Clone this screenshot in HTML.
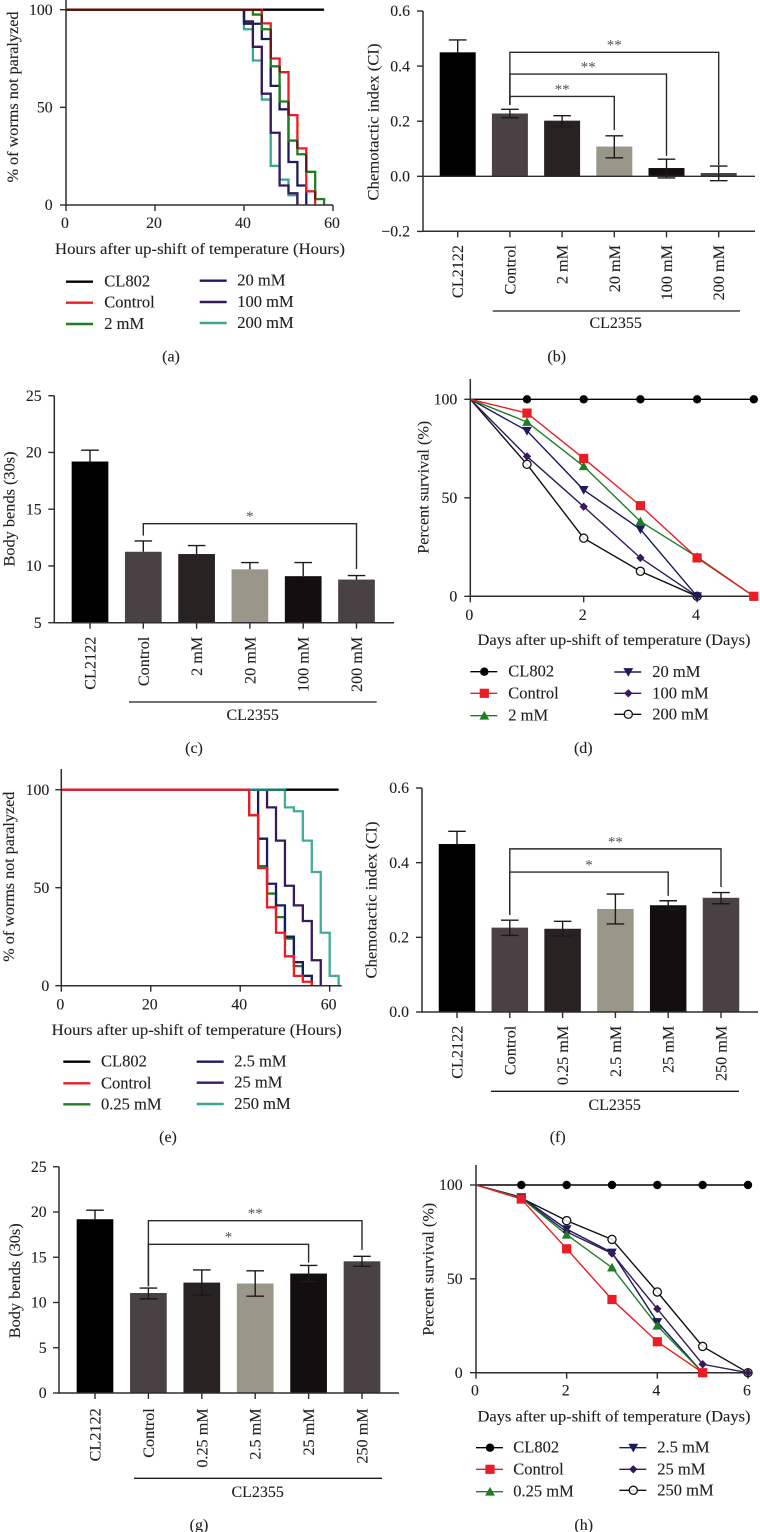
<!DOCTYPE html>
<html lang="en">
<head>
<meta charset="utf-8">
<title>Paralysis, chemotaxis, body bends and survival panels</title>
<style>
html,body{margin:0;padding:0;background:#fff;}
svg{display:block;}
text{font-family:"Liberation Serif",serif;fill:#231f20;stroke:#231f20;stroke-width:0.12;}
</style>
</head>
<body>
<svg id="fig" xmlns="http://www.w3.org/2000/svg" width="760" height="1532" viewBox="0 0 760 1532"></svg>
<script>
/* Panel (a) */
const aHours = [0, 40, 42, 44, 46, 48, 50, 52, 54, 56, 58];
const aCL802 = [100, 100, 100, 100, 100, 100, 100, 100, 100, 100, 100];
const aControl = [100, 100, 100, 93, 75, 68, 46, 29, 7, 0, null];
const a2mM = [100, 100, 97.5, 90, 71, 53, 33, 26, 17, 3, 0];
const a20mM = [100, 92.8, 92.8, 85, 61, 49, 22, 10, 0, null, null];
const a100mM = [100, 94, 81, 57, 37, 10, 6, 0, null, null, null];
const a200mM = [100, 90, 74, 54, 20, 13, 5, 0, null, null, null];
const aXTicks = [0, 20, 40, 60];
const aYTicks = [0, 50, 100];
const aLegend = ["CL802", "Control", "2 mM", "20 mM", "100 mM", "200 mM"];

/* Panel (b) */
const bCategories = ["CL2122", "Control", "2 mM", "20 mM", "100 mM", "200 mM"];
const bMeans = [0.45, 0.228, 0.202, 0.108, 0.03, 0.012];
const bErrHigh = [0.495, 0.243, 0.22, 0.147, 0.062, 0.037];
const bErrLow = [null, 0.213, 0.18, 0.067, -0.006, -0.016];
const bYTicks = [-0.2, 0, 0.2, 0.4, 0.6];
const bBracketTo = [3, 4, 5];
const bBracketLevel = [0.29, 0.371, 0.45];
const bBracketEnd = [0.168, 0.074, 0.041];
const bBracketStars = ["**", "**", "**"];

/* Panel (c) */
const cCategories = ["CL2122", "Control", "2 mM", "20 mM", "100 mM", "200 mM"];
const cMeans = [19.2, 11.25, 11.05, 9.7, 9.1, 8.8];
const cErrHigh = [20.2, 12.2, 11.8, 10.3, 10.3, 9.15];
const cErrLow = [null, null, null, null, null, null];
const cYTicks = [5, 10, 15, 20, 25];
const cBracketTo = [5];
const cBracketLevel = [13.72];
const cBracketEnd = [9.73];
const cBracketStars = ["*"];

/* Panel (d) */
const dDays = [0, 1, 2, 3, 4, 5];
const dCL802 = [100, 100, 100, 100, 100, 100];
const dControl = [100, 93, 70, 46, 19.5, 0];
const d2mM = [100, 88.5, 66, 38, 20, 0];
const d20mM = [100, 84, 54, 34, 0, null];
const d100mM = [100, 71, 45.5, 19.5, 0, null];
const d200mM = [100, 67, 29.5, 12.7, 0, null];
const dXTicks = [0, 2, 4];
const dYTicks = [0, 50, 100];
const dLegend = ["CL802", "Control", "2 mM", "20 mM", "100 mM", "200 mM"];

/* Panel (e) */
const eHours = [0, 42, 44, 46, 48, 50, 52, 54, 56, 58, 60, 62];
const eCL802 = [100, 100, 100, 100, 100, 100, 100, 100, 100, 100, 100, 100];
const eControl = [100, 87, 60, 40, 27, 15, 5, 2, 0, null, null, null];
const e025mM = [100, 87, 61, 47, 35, 24, 10, 5, 0, null, null, null];
const e25mM = [100, 100, 75, 52, 41, 25, 12, 5, 0, null, null, null];
const e25mMHigh = [100, 100, 100, 91, 74, 51, 41, 33, 13, 0, null, null];
const e250mM = [100, 100, 100, 100, 100, 91, 89, 74, 58, 27, 5, 0];
const eXTicks = [0, 20, 40, 60];
const eYTicks = [0, 50, 100];
const eLegend = ["CL802", "Control", "0.25 mM", "2.5 mM", "25 mM", "250 mM"];

/* Panel (f) */
const fCategories = ["CL2122", "Control", "0.25 mM", "2.5 mM", "25 mM", "250 mM"];
const fMeans = [0.45, 0.226, 0.223, 0.276, 0.286, 0.306];
const fErrHigh = [0.484, 0.246, 0.243, 0.316, 0.298, 0.32];
const fErrLow = [null, 0.205, 0.203, 0.236, 0.275, 0.29];
const fYTicks = [0, 0.2, 0.4, 0.6];
const fBracketTo = [4, 5];
const fBracketLevel = [0.375, 0.437];
const fBracketEnd = [0.311, 0.335];
const fBracketStars = ["*", "**"];

/* Panel (g) */
const gCategories = ["CL2122", "Control", "0.25 mM", "2.5 mM", "25 mM", "250 mM"];
const gMeans = [19.2, 11.05, 12.2, 12.1, 13.2, 14.55];
const gErrHigh = [20.2, 11.6, 13.6, 13.5, 14.1, 15.1];
const gErrLow = [null, 10.4, 10.8, 10.7, 12.3, 14];
const gYTicks = [0, 5, 10, 15, 20, 25];
const gBracketTo = [4, 5];
const gBracketLevel = [16.43, 19.04];
const gBracketEnd = [14.4, 15.8];
const gBracketStars = ["*", "**"];

/* Panel (h) */
const hDays = [0, 1, 2, 3, 4, 5, 6];
const hCL802 = [100, 100, 100, 100, 100, 100, 100];
const hControl = [100, 92.5, 66, 39, 16.5, 0, null];
const h025mM = [100, 93, 73.5, 56, 25, 0, null];
const h25mM = [100, 93.5, 76.5, 64, 27, 0, null];
const h25mMHigh = [100, 93, 75, 63.5, 34, 4.5, 0];
const h250mM = [100, 93, 81, 71, 43, 14, 0];
const hXTicks = [0, 2, 4, 6];
const hYTicks = [0, 50, 100];
const hLegend = ["CL802", "Control", "0.25 mM", "2.5 mM", "25 mM", "250 mM"];

const SVGNS = "http://www.w3.org/2000/svg";
const fig = document.getElementById("fig");
const AXIS = "#2e2e2e";
const RED = "#ea1c24";
const GREEN = "#1f7d24";
const NAVY = "#1b1b5e";
const PURPLE = "#381a5c";
const TEAL = "#3ba693";
const BARCOLORS = ["#000000", "#4a4144", "#292223", "#9a9689", "#130e0f", "#4a4144"];
const TICK_SIZE = 15.8;
const TITLE_SIZE = 16;
const LEGEND_SIZE = 16.5;
const CATEGORY_SIZE = 16.2;
const CAPTION_SIZE = 16;

function panel(name) {
  const g = document.createElementNS(SVGNS, "g");
  
  
  fig.appendChild(g);
  return g;
}
function line(g, x1, y1, x2, y2, color, width, name) {
  const el = document.createElementNS(SVGNS, "line");
  el.setAttribute("x1", x1);
  el.setAttribute("y1", y1);
  el.setAttribute("x2", x2);
  el.setAttribute("y2", y2);
  el.setAttribute("stroke", color);
  el.setAttribute("stroke-width", width);
  
  
  g.appendChild(el);
  return el;
}
function label(g, x, y, str, size, anchor, rotated, name, fitWidth) {
  const el = document.createElementNS(SVGNS, "text");
  el.setAttribute("x", x);
  el.setAttribute("y", y);
  el.setAttribute("font-size", size);
  el.setAttribute("text-anchor", anchor);
  if (rotated) el.setAttribute("transform", "rotate(-90 " + x + " " + y + ")");
  if (fitWidth) {
    el.setAttribute("textLength", fitWidth);
    el.setAttribute("lengthAdjust", "spacingAndGlyphs");
  }
  el.textContent = str;
  
  
  g.appendChild(el);
  return el;
}
function shape(g, tag, name) {
  const el = document.createElementNS(SVGNS, tag);
  
  
  g.appendChild(el);
  return el;
}
function fmt(v, digits) {
  const s = Math.abs(v).toFixed(digits);
  return v < 0 ? "\u2212" + s : s;
}
function axes(g, c, x, y, xTicks, yTicks, digits) {
  line(g, c.x0, c.axisTop, c.x0, c.axisBottom + 0.7, AXIS, 1.5, "y-axis-line");
  line(g, c.axisXStart || c.x0, c.axisBottom, c.axisXEnd, c.axisBottom, AXIS, 1.5, "x-axis-line");
  yTicks.forEach(function (t) {
    line(g, c.x0 - 6, y(t), c.x0, y(t), AXIS, 1.4, "y-tick-" + t);
    label(g, c.yLabelX, y(t) + 5.2, fmt(t, digits), TICK_SIZE, "end", false, "y-tick-label-" + t);
  });
  if (xTicks) xTicks.forEach(function (t) {
    line(g, x(t), c.axisBottom, x(t), c.axisBottom + 6, AXIS, 1.4, "x-tick-" + t);
    label(g, x(t) - 1, c.xLabelY, String(t), TICK_SIZE, "middle", false, "x-tick-label-" + t);
  });
}
function common(g, c) {
  label(g, c.yTitleX, c.yTitleCy, c.yTitle, TITLE_SIZE, "middle", true, "y-axis-title", c.yTitleLen);
  if (c.xTitle) label(g, c.xTitleCx, c.xTitleY, c.xTitle, TITLE_SIZE, "middle", false, "x-axis-title", c.xTitleLen);
  label(g, c.capCx, c.capY, c.caption, CAPTION_SIZE, "middle", false, "panel-caption");
}
function marker(g, kind, cx, cy, color, name) {
  if (kind === "circle" || kind === "open") {
    const el = shape(g, "circle", name);
    el.setAttribute("cx", cx);
    el.setAttribute("cy", cy);
    el.setAttribute("r", kind === "open" ? 4.1 : 4.2);
    el.setAttribute("fill", kind === "open" ? "#fff" : color);
    el.setAttribute("fill-opacity", kind === "open" ? 0.85 : 1);
    el.setAttribute("stroke", color);
    el.setAttribute("stroke-width", kind === "open" ? 1.3 : 0);
  } else if (kind === "square") {
    const el = shape(g, "rect", name);
    el.setAttribute("x", cx - 4.6);
    el.setAttribute("y", cy - 4.6);
    el.setAttribute("width", 9.2);
    el.setAttribute("height", 9.2);
    el.setAttribute("fill", color);
  } else {
    const el = shape(g, "polygon", name);
    let pts;
    if (kind === "up") pts = [[cx, cy - 4.8], [cx + 4.9, cy + 3.9], [cx - 4.9, cy + 3.9]];
    else if (kind === "down") pts = [[cx, cy + 4.8], [cx + 4.9, cy - 3.9], [cx - 4.9, cy - 3.9]];
    else pts = [[cx, cy - 4.2], [cx + 4.2, cy], [cx, cy + 4.2], [cx - 4.2, cy]];
    el.setAttribute("points", pts.map(function (p) { return p.join(","); }).join(" "));
    el.setAttribute("fill", color);
  }
}
function legend(g, c, labels, colors, kinds, width) {
  labels.forEach(function (txt, i) {
    const col = i < 3 ? 0 : 1;
    const rowY = c.legY[col][i % 3];
    const lx = c.legLineX[col];
    const entry = shape(g, "g", "legend-entry-" + txt.replace(/[ .]/g, "").toLowerCase());
    line(entry, lx, rowY, lx + 27, rowY, colors[i], width, "legend-swatch-line");
    if (kinds) marker(entry, kinds[i], lx + 14, rowY, colors[i], "legend-swatch-marker");
    label(entry, c.legTextX[col], rowY + 5, txt, LEGEND_SIZE, "start", false, "legend-label");
  });
}
function stepPath(g, times, values, x, y, color, width, name, opacity) {
  let d = "";
  values.forEach(function (v, i) {
    if (v === null) return;
    if (i === 0) { d += "M" + x(times[0]) + " " + y(v); return; }
    d += "H" + x(times[i]) + "V" + y(v);
  });
  const el = shape(g, "path", name);
  el.setAttribute("d", d);
  el.setAttribute("fill", "none");
  el.setAttribute("stroke", color);
  el.setAttribute("stroke-width", width);
  if (opacity) el.setAttribute("stroke-opacity", opacity);
}
function drawSteps(c, series, xTicks, yTicks, labels, colors) {
  const g = panel(c.name);
  const x = function (t) { return c.x0 + (t - 0) * c.pxPerX; };
  const y = function (v) { return c.y0 - v * c.pxPerY; };
  series.forEach(function (s) {
    stepPath(g, c.times, s.values, x, y, s.color, 2.3, s.name, s.opacity);
  });
  if (c.overlap) {
    /* darker tone where the control curve runs over the 2 mM curve */
    const a = c.overlap[0], b = c.overlap[1];
    let firstDrop = 0;
    for (let i = 0; i < a.length; i++) { if (a[i] < 100) { firstDrop = c.times[i]; break; } }
    line(g, x(0), y(100), x(firstDrop), y(100), "#5e0c0e", 2.3, "overlap-top-segment");
    for (let i = 1; i < a.length; i++) {
      if (a[i] === null || b[i] === null) continue;
      const hi = Math.min(a[i - 1], b[i - 1]);
      const lo = Math.max(a[i], b[i]);
      if (hi > lo) line(g, x(c.times[i]), y(hi), x(c.times[i]), y(lo), "#6a1214", 2.3, "overlap-segment");
    }
  }
  axes(g, c, x, y, xTicks, yTicks, 0);
  common(g, c);
  legend(g, c, labels, colors, null, 2.4);
}
function drawBars(c, cats, means, errHigh, errLow, yTicks, digits, bTo, bLevel, bEnd, bStars) {
  const g = panel(c.name);
  const x = function (i) { return c.cat0 + i * c.step; };
  const y = function (v) { return c.yBase - (v - c.vBase) * c.pxPerY; };
  means.forEach(function (m, i) {
    const el = shape(g, "rect", "bar-" + cats[i].replace(/[ .]/g, "").toLowerCase());
    el.setAttribute("x", x(i) - c.barW / 2);
    el.setAttribute("y", Math.min(y(m), y(c.barFloor)));
    el.setAttribute("width", c.barW);
    el.setAttribute("height", Math.abs(y(c.barFloor) - y(m)));
    el.setAttribute("fill", BARCOLORS[i]);
  });
  axes(g, c, x, y, null, yTicks, digits);
  if (c.zeroLine) line(g, c.x0, y(0), c.axisXEnd, y(0), AXIS, 1.4, "zero-line");
  means.forEach(function (m, i) {
    const low = errLow[i] === null ? m : errLow[i];
    line(g, x(i), y(errHigh[i]), x(i), y(low), "#1a1a1a", 1.4, "error-bar");
    line(g, x(i) - 8.8, y(errHigh[i]), x(i) + 8.8, y(errHigh[i]), "#1a1a1a", 1.4, "error-cap-high");
    if (errLow[i] !== null) line(g, x(i) - 8.8, y(low), x(i) + 8.8, y(low), "#1a1a1a", 1.4, "error-cap-low");
    line(g, x(i), c.axisBottom, x(i), c.axisBottom + 6, AXIS, 1.4, "x-tick");
    label(g, x(i) + 5.5, c.catTop, cats[i], CATEGORY_SIZE, "end", true, "category-label");
  });
  bLevel.forEach(function (lvl, k) {
    const xa = x(1), xb = x(bTo[k]);
    const br = shape(g, "path", "significance-bracket");
    br.setAttribute("d", "M" + xa + " " + y(c.bracketStart) + "V" + y(lvl) + "H" + xb + "V" + y(bEnd[k]));
    br.setAttribute("fill", "none");
    br.setAttribute("stroke", "#2a2a2a");
    br.setAttribute("stroke-width", 1.4);
    label(g, (xa + xb) / 2, y(lvl) - 2.6, bStars[k], 15, "middle", false, "significance-stars").setAttribute("style", "fill:#555;stroke:none");
  });
  line(g, c.groupX1, c.groupY, c.groupX2, c.groupY, "#1a1a1a", 1.3, "group-underline");
  label(g, (c.groupCx), c.groupLabelY, "CL2355", TITLE_SIZE, "middle", false, "group-label");
  common(g, c);
}
function drawSurvival(c, days, series, xTicks, yTicks, labels) {
  const g = panel(c.name);
  const x = function (t) { return c.x0 + t * c.pxPerX; };
  const y = function (v) { return c.y0 - v * c.pxPerY; };
  series.forEach(function (s) {
    const pts = [];
    s.values.forEach(function (v, i) { if (v !== null) pts.push(x(days[i]) + "," + y(v)); });
    const el = shape(g, "polyline", s.name + "-line");
    el.setAttribute("points", pts.join(" "));
    el.setAttribute("fill", "none");
    el.setAttribute("stroke", s.color);
    el.setAttribute("stroke-width", 1.4);
  });
  axes(g, c, x, y, xTicks, yTicks, 0);
  series.forEach(function (s) {
    s.values.forEach(function (v, i) {
      if (v === null || i === 0) return;
      marker(g, s.kind, x(days[i]), y(v), s.color, s.name + "-marker");
    });
  });
  common(g, c);
  legend(g, c, labels, series.slice().sort(function (p, q) { return p.order - q.order; }).map(function (s) { return s.color; }),
    series.slice().sort(function (p, q) { return p.order - q.order; }).map(function (s) { return s.kind; }), 1.4);
}

/* ---------- panel a ---------- */
drawSteps({
  name: "panel-a-paralysis", times: aHours, x0: 66, y0: 205, pxPerX: 4.45, pxPerY: 1.953,
  axisTop: -10, axisBottom: 205, axisXEnd: 333, yLabelX: 52.7, xLabelY: 228,
  yTitle: "% of worms not paralyzed", yTitleX: 18, yTitleCy: 97, yTitleLen: 171,
  xTitle: "Hours after up-shift of temperature (Hours)", xTitleCx: 200, xTitleY: 254, xTitleLen: 290,
  caption: "(a)", capCx: 171, capY: 361.5,
  legLineX: [66, 199.7], legTextX: [104.3, 237.3],
  legY: [[281.7, 302.7, 324], [280.7, 302, 323]],
  overlap: [aControl, a2mM]
}, [
  { name: "series-cl802", values: aCL802, color: "#000" },
  { name: "series-200mm", values: a200mM, color: TEAL },
  { name: "series-100mm", values: a100mM, color: PURPLE },
  { name: "series-20mm", values: a20mM, color: NAVY },
  { name: "series-control", values: aControl, color: RED },
  { name: "series-2mm", values: a2mM, color: GREEN }
], aXTicks, aYTicks, aLegend, ["#000", RED, GREEN, NAVY, PURPLE, TEAL]);

/* ---------- panel e ---------- */
drawSteps({
  name: "panel-e-paralysis", times: eHours, x0: 61.3, y0: 985.7, pxPerX: 4.473, pxPerY: 1.96,
  axisTop: 769, axisBottom: 985.7, axisXEnd: 341.7, yLabelX: 49.3, xLabelY: 1009.3,
  yTitle: "% of worms not paralyzed", yTitleX: 14, yTitleCy: 876.7, yTitleLen: 170,
  xTitle: "Hours after up-shift of temperature (Hours)", xTitleCx: 196.7, xTitleY: 1035, xTitleLen: 290,
  caption: "(e)", capCx: 168, capY: 1142,
  legLineX: [63.3, 196.7], legTextX: [101, 234.3],
  legY: [[1061.7, 1083.3, 1104.3], [1061.7, 1082.7, 1104]]
}, [
  { name: "series-cl802", values: eCL802, color: "#000" },
  { name: "series-0-25mm", values: e025mM, color: GREEN },
  { name: "series-2-5mm", values: e25mM, color: NAVY },
  { name: "series-25mm", values: e25mMHigh, color: PURPLE },
  { name: "series-250mm", values: e250mM, color: "#189a84", opacity: 0.82 },
  { name: "series-control", values: eControl, color: RED }
], eXTicks, eYTicks, eLegend, ["#000", RED, GREEN, NAVY, PURPLE, TEAL]);

/* ---------- panel b ---------- */
drawBars({
  name: "panel-b-chemotaxis", x0: 423, cat0: 457.7, step: 52.2, barW: 36,
  yBase: 176.3, vBase: 0, pxPerY: 275.5, barFloor: 0, zeroLine: true,
  axisTop: 11, axisBottom: 231.3, axisXEnd: 755, yLabelX: 410,
  catTop: 245, bracketStart: 0.259,
  groupX1: 492.7, groupX2: 740, groupY: 311, groupCx: 615.7, groupLabelY: 328,
  yTitle: "Chemotactic index (CI)", yTitleX: 378.5, yTitleCy: 122, yTitleLen: 157,
  caption: "(b)", capCx: 556.7, capY: 361.5
}, bCategories, bMeans, bErrHigh, bErrLow, bYTicks, 1, bBracketTo, bBracketLevel, bBracketEnd, bBracketStars);

/* ---------- panel c ---------- */
drawBars({
  name: "panel-c-body-bends", x0: 54.3, cat0: 90, step: 53.3, barW: 36.7,
  yBase: 622.7, vBase: 5, pxPerY: 11.35, barFloor: 5,
  axisTop: 395.7, axisBottom: 622.7, axisXEnd: 394, yLabelX: 41.7,
  catTop: 636.7, bracketStart: 12.67,
  groupX1: 129, groupX2: 376.7, groupY: 702, groupCx: 252.7, groupLabelY: 720,
  yTitle: "Body bends (30s)", yTitleX: 14.3, yTitleCy: 509, yTitleLen: 115,
  caption: "(c)", capCx: 194, capY: 753
}, cCategories, cMeans, cErrHigh, cErrLow, cYTicks, 0, cBracketTo, cBracketLevel, cBracketEnd, cBracketStars);

/* ---------- panel f ---------- */
drawBars({
  name: "panel-f-chemotaxis", x0: 422, cat0: 457, step: 52.8, barW: 36.5,
  yBase: 1012, vBase: 0, pxPerY: 373.3, barFloor: 0,
  axisTop: 788, axisBottom: 1012, axisXEnd: 758, yLabelX: 409,
  catTop: 1025.7, bracketStart: 0.26,
  groupX1: 491, groupX2: 739, groupY: 1091.3, groupCx: 614.7, groupLabelY: 1110,
  yTitle: "Chemotactic index (CI)", yTitleX: 376.5, yTitleCy: 900, yTitleLen: 157,
  caption: "(f)", capCx: 557.7, capY: 1142
}, fCategories, fMeans, fErrHigh, fErrLow, fYTicks, 1, fBracketTo, fBracketLevel, fBracketEnd, fBracketStars);

/* ---------- panel g ---------- */
drawBars({
  name: "panel-g-body-bends", x0: 59, cat0: 95, step: 53.4, barW: 36.7,
  yBase: 1393, vBase: 0, pxPerY: 9.05, barFloor: 0,
  axisTop: 1166.7, axisBottom: 1393, axisXEnd: 399, yLabelX: 46.7,
  catTop: 1408.3, bracketStart: 11.8,
  groupX1: 134, groupX2: 382, groupY: 1478.3, groupCx: 257.7, groupLabelY: 1497,
  yTitle: "Body bends (30s)", yTitleX: 20, yTitleCy: 1280.8, yTitleLen: 115,
  caption: "(g)", capCx: 199, capY: 1530
}, gCategories, gMeans, gErrHigh, gErrLow, gYTicks, 0, gBracketTo, gBracketLevel, gBracketEnd, gBracketStars);

/* ---------- panel d ---------- */
drawSurvival({
  name: "panel-d-survival", x0: 470.3, y0: 596.3, pxPerX: 56.7, pxPerY: 1.97,
  axisTop: 379, axisBottom: 596.3, axisXEnd: 758, yLabelX: 457.3, xLabelY: 620,
  yTitle: "Percent survival (%)", yTitleX: 428.3, yTitleCy: 487.3, yTitleLen: 133,
  xTitle: "Days after up-shift of temperature (Days)", xTitleCx: 614, xTitleY: 645, xTitleLen: 273,
  caption: "(d)", capCx: 583.3, capY: 753,
  legLineX: [470.3, 614.3], legTextX: [508.3, 652.3],
  legY: [[671.7, 693.3, 715.7], [672, 693.3, 714.3]]
}, dDays, [
  { name: "series-cl802", order: 0, values: dCL802, color: "#000", kind: "circle" },
  { name: "series-200mm", order: 5, values: d200mM, color: "#111", kind: "open" },
  { name: "series-100mm", order: 4, values: d100mM, color: PURPLE, kind: "diamond" },
  { name: "series-20mm", order: 3, values: d20mM, color: NAVY, kind: "down" },
  { name: "series-2mm", order: 2, values: d2mM, color: GREEN, kind: "up" },
  { name: "series-control", order: 1, values: dControl, color: RED, kind: "square" }
], dXTicks, dYTicks, dLegend);

/* ---------- panel h ---------- */
drawSurvival({
  name: "panel-h-survival", x0: 476, y0: 1372.7, pxPerX: 45.33, pxPerY: 1.877,
  axisTop: 1165, axisBottom: 1372.7, axisXEnd: 751.7, yLabelX: 462.7, xLabelY: 1395.7,
  yTitle: "Percent survival (%)", yTitleX: 433.3, yTitleCy: 1269.3, yTitleLen: 133,
  xTitle: "Days after up-shift of temperature (Days)", xTitleCx: 614, xTitleY: 1421.7, xTitleLen: 273,
  caption: "(h)", capCx: 583.7, capY: 1530,
  legLineX: [476, 619.3], legTextX: [513.3, 657.3],
  legY: [[1447.7, 1469.3, 1491.7], [1447.7, 1469.3, 1490.3]]
}, hDays, [
  { name: "series-cl802", order: 0, values: hCL802, color: "#000", kind: "circle" },
  { name: "series-250mm", order: 5, values: h250mM, color: "#111", kind: "open" },
  { name: "series-2-5mm", order: 3, values: h25mM, color: NAVY, kind: "down" },
  { name: "series-25mm", order: 4, values: h25mMHigh, color: PURPLE, kind: "diamond" },
  { name: "series-0-25mm", order: 2, values: h025mM, color: GREEN, kind: "up" },
  { name: "series-control", order: 1, values: hControl, color: RED, kind: "square" }
], hXTicks, hYTicks, hLegend);
</script>
</body>
</html>
